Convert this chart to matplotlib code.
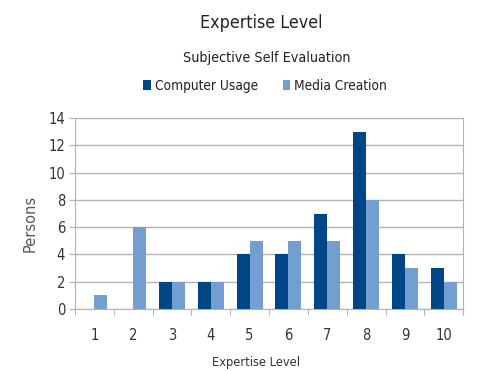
import numpy as np
import matplotlib
matplotlib.use("Agg")
import matplotlib.pyplot as plt

# Survey answers per expertise level (1..10)
levels = [1, 2, 3, 4, 5, 6, 7, 8, 9, 10]
computer_usage = [0, 0, 2, 2, 4, 4, 7, 13, 4, 3]
media_creation = [1, 6, 2, 2, 5, 5, 5, 8, 3, 2]
series_names = ["Computer Usage", "Media Creation"]
y_ticks = [0, 2, 4, 6, 8, 10, 12, 14]

plt.rcParams['font.family'] = ['DejaVu Sans']
plt.rcParams['font.stretch'] = 'condensed'

dark_blue = "#004586"
light_blue = "#729fcf"
grid_grey = "#b3b3b3"
text_col = "#333333"

fig = plt.figure(figsize=(4.83, 3.71), dpi=100)
ax = fig.add_axes([0.155, 0.167, 0.804, 0.515])

x = np.array(levels)
w = 0.335
ax.bar(x - w / 2, computer_usage, width=w, color=dark_blue, label=series_names[0], zorder=3)
ax.bar(x + w / 2, media_creation, width=w, color=light_blue, label=series_names[1], zorder=3)

ax.set_xlim(0.5, 10.5)
ax.set_ylim(0, 14)
ax.set_yticks(y_ticks)
ax.yaxis.grid(True, color=grid_grey, linewidth=1, zorder=0)

# category boundaries get the tick marks, the labels sit in between
ax.set_xticks(np.arange(0.5, 11, 1))
ax.set_xticklabels([])
ax.set_xticks(x, minor=True)
ax.set_xticklabels([str(v) for v in levels], minor=True)
ax.tick_params(axis='x', which='major', length=4, color=grid_grey)
ax.tick_params(axis='x', which='minor', length=0, pad=14, labelsize=10.5, labelcolor=text_col)
ax.tick_params(axis='y', length=4, color=grid_grey, pad=3, labelsize=10.5, labelcolor=text_col)

for side in ['left', 'bottom', 'right']:
    ax.spines[side].set_color(grid_grey)
ax.spines['top'].set_visible(False)

ax.set_ylabel("Persons", fontsize=10.5, fontstretch='normal', color="#555555")
ax.yaxis.set_label_coords(-0.095, 0.45)
ax.set_xlabel("Expertise Level", fontsize=9.2, color=text_col)
ax.xaxis.set_label_coords(0.466, -0.245)

fig.text(0.54, 0.938, "Expertise Level", ha='center', va='center', fontsize=12.8, color="#222222")
fig.text(0.553, 0.843, "Subjective Self Evaluation", ha='center', va='center', fontsize=10.3, color="#222222")
ax.legend(loc='center', bbox_to_anchor=(0.49, 1.168), ncol=2, frameon=False,
          fontsize=9.8, handlelength=0.55, handleheight=0.7, handletextpad=0.3,
          columnspacing=1.8, labelcolor="#222222")

fig.savefig("out.png", dpi=100)
